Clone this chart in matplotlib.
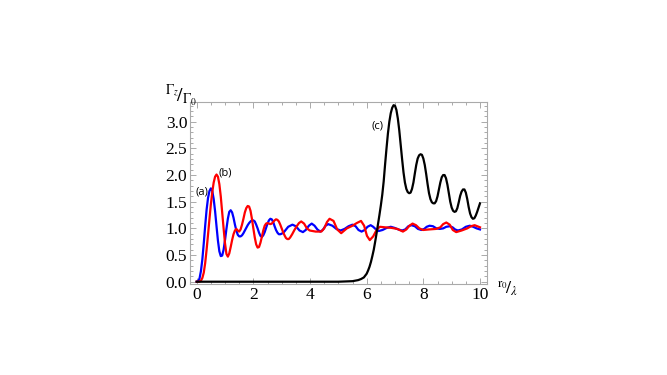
import numpy as np
import matplotlib.pyplot as plt
from matplotlib.ticker import MultipleLocator

plt.rcParams['mathtext.fontset'] = 'stix'

# curve (a): blue
xa = [0.0, 0.05, 0.1, 0.15, 0.2, 0.25, 0.3, 0.35, 0.4, 0.45, 0.5, 0.55, 0.6,
      0.65, 0.7, 0.75, 0.8, 0.85, 0.9, 0.95, 1.0, 1.05, 1.1, 1.15, 1.2, 1.25,
      1.3, 1.35, 1.4, 1.45, 1.5, 1.55, 1.6, 1.65, 1.7, 1.75, 1.8, 1.85, 1.9,
      1.95, 2.0, 2.05, 2.1, 2.15, 2.2, 2.25, 2.3, 2.35, 2.4, 2.45, 2.5, 2.55,
      2.6, 2.65, 2.7, 2.75, 2.8, 2.85, 2.9, 2.95, 3.0,
      3.08, 3.23, 3.38, 3.50, 3.63, 3.75, 3.85, 3.96, 4.06,
      4.16, 4.26, 4.36, 4.45, 4.55, 4.64, 4.79, 4.93, 5.08, 5.22, 5.36, 5.50,
      5.61, 5.71, 5.82, 5.93, 6.03, 6.14, 6.23, 6.33, 6.42, 6.56, 6.71, 6.85,
      6.98, 7.12, 7.25, 7.36, 7.47, 7.58, 7.70, 7.81, 7.93, 8.03, 8.12, 8.22,
      8.34, 8.46, 8.58, 8.70, 8.81, 8.93, 9.03, 9.12, 9.22, 9.36, 9.50, 9.64,
      9.76, 9.88, 10.0]
ya = [0.0, 0.01, 0.06, 0.2, 0.42, 0.72, 1.05, 1.35, 1.57, 1.7, 1.75, 1.7, 1.55,
      1.32, 1.04, 0.77, 0.57, 0.48, 0.49, 0.6, 0.78, 0.99, 1.18, 1.31, 1.34, 1.3,
      1.2, 1.07, 0.96, 0.88, 0.85, 0.85, 0.87, 0.91, 0.96, 1.01, 1.06, 1.1, 1.13,
      1.15, 1.15, 1.13, 1.07, 1.0, 0.92, 0.86, 0.84, 0.87, 0.93, 1.01, 1.09, 1.15,
      1.18, 1.17, 1.12, 1.04, 0.97, 0.92, 0.89, 0.89, 0.9,
      0.93, 1.03, 1.07, 1.04, 0.96, 0.93, 0.97, 1.05, 1.09,
      1.05, 0.98, 0.94, 0.97, 1.05, 1.08, 1.05, 0.99, 0.96, 0.99, 1.04, 1.07,
      1.04, 0.97, 0.94, 0.97, 1.03, 1.06, 1.03, 0.98, 0.95, 0.97, 1.01, 1.03,
      1.01, 0.98, 0.96, 0.98, 1.04, 1.06, 1.04, 0.99, 0.97, 0.99, 1.03, 1.05,
      1.04, 1.0, 0.99, 1.0, 1.03, 1.04, 1.02, 0.98, 0.96, 0.98, 1.03, 1.05,
      1.03, 1.0, 0.98]

# curve (b): red
xb = [0.0, 0.1, 0.15, 0.2, 0.25, 0.3, 0.35, 0.4, 0.45, 0.5, 0.55, 0.6, 0.65,
      0.7, 0.75, 0.8, 0.85, 0.9, 0.95, 1.0, 1.05, 1.1, 1.15, 1.2, 1.25, 1.3,
      1.35, 1.4, 1.45, 1.5, 1.55, 1.6, 1.65, 1.7, 1.75, 1.8, 1.85, 1.9, 1.95,
      2.0, 2.05, 2.1, 2.15, 2.2, 2.25, 2.3, 2.35, 2.4, 2.45, 2.5, 2.55, 2.6,
      2.65, 2.7, 2.75, 2.8, 2.85, 2.9, 2.95, 3.0, 3.05, 3.1, 3.15, 3.2, 3.25,
      3.3, 3.37, 3.45, 3.53, 3.61, 3.69,
      3.79, 3.89, 3.99, 4.2, 4.40, 4.50, 4.60, 4.69, 4.83, 4.96, 5.10, 5.3,
      5.5, 5.65, 5.80, 5.91, 6.01, 6.11, 6.23, 6.35, 6.46, 6.65, 6.87, 7.08,
      7.28, 7.40, 7.51, 7.62, 7.74, 7.86, 7.99, 8.2, 8.45, 8.6, 8.70, 8.81,
      8.93, 9.04, 9.16, 9.35, 9.55, 9.68, 9.81, 10.0]
yb = [0.0, 0.0, 0.02, 0.07, 0.17, 0.35, 0.6, 0.88, 1.17, 1.45, 1.68, 1.86, 1.97,
      2.01, 1.97, 1.83, 1.6, 1.3, 1.0, 0.72, 0.52, 0.47, 0.53, 0.65, 0.78, 0.89,
      0.96, 0.99, 0.96, 0.94, 0.98, 1.07, 1.18, 1.3, 1.38, 1.42, 1.41, 1.33, 1.18,
      1.0, 0.83, 0.7, 0.64, 0.65, 0.73, 0.84, 0.96, 1.05, 1.09, 1.1, 1.09, 1.08,
      1.09, 1.12, 1.15, 1.17, 1.16, 1.13, 1.07, 1.0, 0.93, 0.87, 0.82, 0.80, 0.80,
      0.83, 0.89, 0.97, 1.04, 1.10, 1.13,
      1.09, 1.0, 0.96, 0.94, 0.94, 1.0, 1.12, 1.18, 1.14, 0.98, 0.91, 1.0,
      1.05, 1.10, 1.14, 1.05, 0.86, 0.78, 0.85, 0.97, 1.03, 1.02, 1.01, 0.99,
      0.94, 0.98, 1.05, 1.09, 1.06, 1.0, 0.97, 0.98, 0.99, 1.02, 1.08, 1.11,
      1.07, 0.97, 0.93, 0.96, 1.0, 1.04, 1.06, 1.02]

# curve (c): black
xc = [0.0, 1.0, 3.0, 5.0, 5.5, 5.7, 5.8, 5.9, 6.0, 6.05, 6.1, 6.15, 6.2, 6.25,
      6.3, 6.35, 6.4, 6.45, 6.5, 6.55, 6.6, 6.65, 6.7, 6.75, 6.8, 6.85, 6.9,
      6.95, 7.0, 7.05, 7.1, 7.15, 7.2, 7.25, 7.3, 7.35, 7.4, 7.45, 7.5, 7.55,
      7.6, 7.65, 7.7, 7.75, 7.8, 7.85, 7.9, 7.95, 8.0, 8.05, 8.1, 8.15, 8.2,
      8.25, 8.3, 8.35, 8.4, 8.45, 8.5, 8.55, 8.6, 8.65, 8.7, 8.75, 8.8, 8.85,
      8.9, 8.95, 9.0, 9.05, 9.1, 9.15, 9.2, 9.25, 9.3, 9.35, 9.4, 9.45, 9.5,
      9.55, 9.6, 9.65, 9.7, 9.75, 9.8, 9.85, 9.9, 9.95, 10.0]
yc = [0.0, 0.0, 0.0, 0.0, 0.01, 0.03, 0.05, 0.08, 0.15, 0.21, 0.28, 0.37, 0.48,
      0.6, 0.75, 0.91, 1.08, 1.25, 1.43, 1.63, 1.88, 2.2, 2.5, 2.78, 3.0, 3.16,
      3.26, 3.31, 3.30, 3.22, 3.06, 2.84, 2.57, 2.3, 2.05, 1.86, 1.74, 1.68,
      1.66, 1.67, 1.74, 1.86, 2.03, 2.19, 2.31, 2.37, 2.39, 2.38, 2.31, 2.19,
      2.02, 1.83, 1.66, 1.55, 1.49, 1.47, 1.47, 1.51, 1.6, 1.73, 1.86, 1.96,
      2.0, 2.0, 1.94, 1.82, 1.66, 1.5, 1.39, 1.33, 1.31, 1.32, 1.38, 1.49, 1.61,
      1.69, 1.73, 1.73, 1.67, 1.55, 1.4, 1.28, 1.21, 1.18, 1.19, 1.24, 1.31,
      1.39, 1.47]

xticks = [0, 2, 4, 6, 8, 10]
yticks = [0.0, 0.5, 1.0, 1.5, 2.0, 2.5, 3.0]

fig = plt.figure(figsize=(6.67, 3.75), dpi=100)
ax = fig.add_axes([190 / 667, 91 / 375, 297 / 667, 182 / 375])

ax.plot(xa, ya, color='#0000ff', lw=1.6)
ax.plot(xb, yb, color='#ff0000', lw=1.6)
ax.plot(xc, yc, color='black', lw=1.6)

ax.set_xlim(-0.236, 10.247)
ax.set_ylim(-0.043, 3.37)
ax.set_xticks(xticks)
ax.set_xticklabels([str(t) for t in xticks])
ax.set_yticks(yticks)
ax.set_yticklabels([f'{t:.1f}' for t in yticks])
ax.xaxis.set_minor_locator(MultipleLocator(0.5))
ax.yaxis.set_minor_locator(MultipleLocator(0.1))

for s in ax.spines.values():
    s.set_color('#aaaaaa')
    s.set_linewidth(0.8)
ax.tick_params(which='both', direction='in', top=True, right=True,
               color='#aaaaaa', width=0.7)
ax.tick_params(which='major', length=4, pad=2)
ax.tick_params(which='minor', length=2)
for lab in ax.get_xticklabels() + ax.get_yticklabels():
    lab.set_family('Liberation Serif')
    lab.set_fontsize(12.5)

# curve labels
ax.text(0.19, 1.69, '(a)', fontsize=8, family='Open Sans', ha='center', va='center')
ax.text(1.0, 2.04, '(b)', fontsize=8, family='Open Sans', ha='center', va='center')
ax.text(6.38, 2.92, '(c)', fontsize=8, family='Open Sans', ha='center', va='center')

# axis labels (skewed fractions)
fig.text(507 / 667, 1 - 289 / 375, r'$^{\mathrm{r}_0}\!/_{\lambda}$', fontsize=13,
         ha='center', va='center')
fig.text(181 / 667, 1 - 96 / 375, r'$^{\Gamma_z}\!/_{\Gamma_0}$', fontsize=14,
         ha='center', va='center')

fig.savefig('out.png', dpi=100)
